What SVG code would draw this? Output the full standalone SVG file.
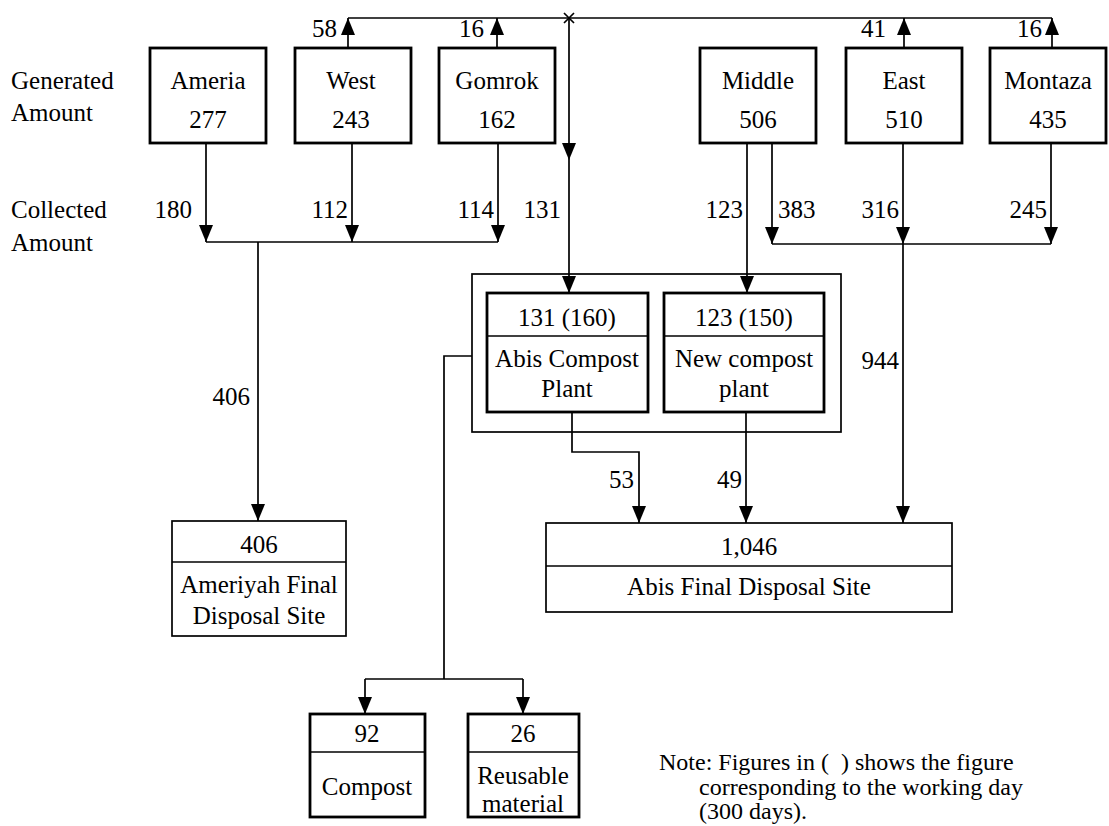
<svg xmlns="http://www.w3.org/2000/svg" width="1109" height="826" viewBox="0 0 1109 826">
  <style>
    text { font-family: "Liberation Serif", "Times New Roman", serif; font-size: 25px; fill: #000; }
    .c { text-anchor: middle; }
    .e { text-anchor: end; }
    .box { fill: #fff; stroke: #000; stroke-width: 2.8; }
    .thin { fill: #fff; stroke: #000; stroke-width: 1.7; }
    .div { stroke: #000; stroke-width: 1.5; }
    .ln { fill: none; stroke: #000; stroke-width: 1.7; }
    .arr { fill: none; stroke: #000; stroke-width: 1.7; marker-end: url(#ah); }
    .note { font-size: 24px; }
  </style>
  <defs>
    <marker id="ah" viewBox="0 0 17 14" refX="17" refY="7" markerWidth="17" markerHeight="14" markerUnits="userSpaceOnUse" orient="auto">
      <path d="M0,0 L17,7 L0,14 z" fill="#000"/>
    </marker>
  </defs>
  <rect width="1109" height="826" fill="#fff"/>

  <!-- row captions -->
  <g id="captions">
    <text x="11" y="89">Generated</text>
    <text x="11" y="121">Amount</text>
    <text x="11" y="218">Collected</text>
    <text x="11" y="251">Amount</text>
  </g>

  <!-- district nodes -->
  <g id="ameria">
    <rect class="box" x="150" y="48" width="116" height="95"/>
    <text class="c" x="208" y="89">Ameria</text>
    <text class="c" x="208" y="128">277</text>
  </g>
  <g id="west">
    <rect class="box" x="295" y="48" width="116" height="95"/>
    <text class="c" x="351" y="89">West</text>
    <text class="c" x="351" y="128">243</text>
  </g>
  <g id="gomrok">
    <rect class="box" x="439" y="48" width="116" height="95"/>
    <text class="c" x="497" y="89">Gomrok</text>
    <text class="c" x="497" y="128">162</text>
  </g>
  <g id="middle">
    <rect class="box" x="700" y="48" width="116" height="95"/>
    <text class="c" x="758" y="89">Middle</text>
    <text class="c" x="758" y="128">506</text>
  </g>
  <g id="east">
    <rect class="box" x="846" y="48" width="116" height="95"/>
    <text class="c" x="904" y="89">East</text>
    <text class="c" x="904" y="128">510</text>
  </g>
  <g id="montaza">
    <rect class="box" x="990" y="48" width="116" height="95"/>
    <text class="c" x="1048" y="89">Montaza</text>
    <text class="c" x="1048" y="128">435</text>
  </g>

  <!-- compost plants -->
  <g id="plants">
    <rect class="thin" x="472" y="274" width="369" height="158"/>
  </g>
  <g id="abis-compost">
    <rect class="box" x="487" y="293" width="161" height="119"/>
    <line class="div" x1="487" y1="336" x2="648" y2="336"/>
    <text class="c" x="567" y="326">131 (160)</text>
    <text class="c" x="567" y="367">Abis Compost</text>
    <text class="c" x="567" y="397">Plant</text>
  </g>
  <g id="new-compost">
    <rect class="box" x="664" y="293" width="160" height="119"/>
    <line class="div" x1="664" y1="336" x2="824" y2="336"/>
    <text class="c" x="744" y="326">123 (150)</text>
    <text class="c" x="744" y="367">New compost</text>
    <text class="c" x="744" y="397">plant</text>
  </g>

  <!-- disposal sites -->
  <g id="ameriyah-site">
    <rect class="thin" x="172" y="521" width="174" height="115"/>
    <line class="div" x1="172" y1="562" x2="346" y2="562"/>
    <text class="c" x="259" y="553">406</text>
    <text class="c" x="259" y="593">Ameriyah Final</text>
    <text class="c" x="259" y="624">Disposal Site</text>
  </g>
  <g id="abis-site">
    <rect class="thin" x="546" y="523" width="406" height="89"/>
    <line class="div" x1="546" y1="566" x2="952" y2="566"/>
    <text class="c" x="749" y="555">1,046</text>
    <text class="c" x="749" y="595">Abis Final Disposal Site</text>
  </g>

  <!-- compost products -->
  <g id="compost">
    <rect class="box" x="310" y="714" width="115" height="103"/>
    <line class="div" x1="310" y1="752" x2="425" y2="752"/>
    <text class="c" x="367" y="742">92</text>
    <text class="c" x="367" y="795">Compost</text>
  </g>
  <g id="reusable">
    <rect class="box" x="468" y="714" width="111" height="103"/>
    <line class="div" x1="468" y1="752" x2="579" y2="752"/>
    <text class="c" x="523" y="742">26</text>
    <text class="c" x="523" y="784">Reusable</text>
    <text class="c" x="523" y="812">material</text>
  </g>

  <!-- flows -->
  <g id="connectors">
    <!-- uncollected amounts up to the common line -->
    <line class="ln" x1="348" y1="18" x2="1052" y2="18"/>
    <path class="arr" d="M348,48 V18"/>
    <path class="arr" d="M497,48 V18"/>
    <path class="arr" d="M904,48 V18"/>
    <path class="arr" d="M1052,48 V18"/>
    <path class="ln" d="M564,13 L574,23 M574,13 L564,23" stroke-width="2.2"/>
    <!-- line to Abis compost plant -->
    <path class="arr" d="M569,18 V160"/>
    <path class="arr" d="M569,160 V293"/>
    <!-- western collection -->
    <path class="arr" d="M206,143 V242"/>
    <path class="arr" d="M352,143 V242"/>
    <path class="arr" d="M498,143 V242"/>
    <line class="ln" x1="206" y1="242" x2="498" y2="242"/>
    <path class="arr" d="M258,242 V521"/>
    <!-- eastern collection -->
    <path class="arr" d="M747,143 V293"/>
    <path class="arr" d="M772,143 V244"/>
    <path class="arr" d="M903,143 V244"/>
    <path class="arr" d="M1051,143 V244"/>
    <line class="ln" x1="772" y1="244" x2="1051" y2="244"/>
    <path class="arr" d="M903,244 V523"/>
    <!-- plant residues to Abis site -->
    <path class="arr" d="M572,412 V452 H639 V523"/>
    <path class="arr" d="M746,412 V523"/>
    <!-- compost products -->
    <path class="ln" d="M472,356 H444 V679"/>
    <line class="ln" x1="365" y1="679" x2="523" y2="679"/>
    <path class="arr" d="M365,679 V714"/>
    <path class="arr" d="M523,679 V714"/>
  </g>

  <!-- flow quantities -->
  <g id="flow-labels">
    <text class="e" x="337" y="37">58</text>
    <text class="e" x="484" y="37">16</text>
    <text class="e" x="886" y="37">41</text>
    <text class="e" x="1042" y="37">16</text>
    <text class="e" x="192" y="218">180</text>
    <text class="e" x="348" y="218">112</text>
    <text class="e" x="494" y="218">114</text>
    <text class="e" x="561" y="218">131</text>
    <text class="e" x="743" y="218">123</text>
    <text x="778" y="218">383</text>
    <text class="e" x="899" y="218">316</text>
    <text class="e" x="1047" y="218">245</text>
    <text class="e" x="899" y="369">944</text>
    <text class="e" x="250" y="405">406</text>
    <text class="e" x="634" y="488">53</text>
    <text class="e" x="742" y="488">49</text>
  </g>

  <!-- note -->
  <g id="note">
    <text class="note" x="659" y="770">Note: Figures in (&#160;&#160;) shows the figure</text>
    <text class="note" x="699" y="795">corresponding to the working day</text>
    <text class="note" x="699" y="819">(300 days).</text>
  </g>
</svg>
